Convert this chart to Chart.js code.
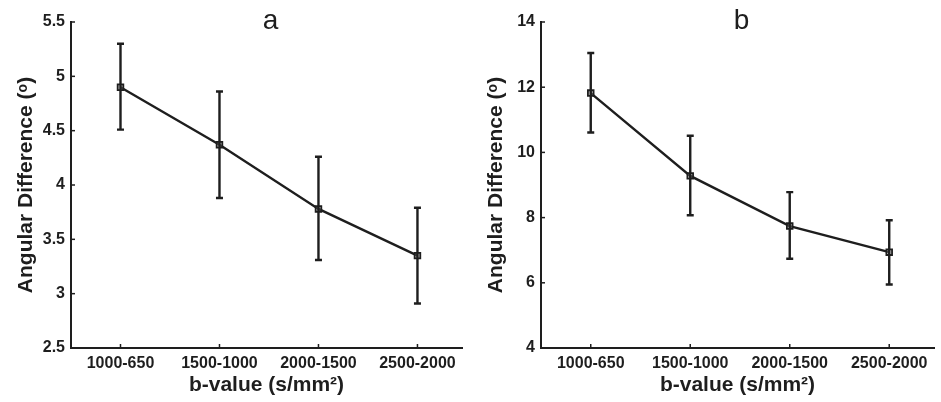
<!DOCTYPE html>
<html>
<head>
<meta charset="utf-8">
<script src="https://cdn.jsdelivr.net/npm/chart.js@4.4.0/dist/chart.umd.min.js"></script>
<style>
    body { margin: 0; background: #fff; }
    #wrap { display: flex; width: 941px; height: 402px; }
</style>
</head>
<body>
<div id="wrap">
    <canvas id="chartA" width="470" height="402"></canvas>
    <canvas id="chartB" width="471" height="402"></canvas>
</div>
<script>
// b-value pairs on the x axis
const categories = ['1000-650', '1500-1000', '2000-1500', '2500-2000'];

// panel a: mean angular difference and error bar ends
const meanA = [4.90, 4.37, 3.78, 3.35];
const upperA = [5.30, 4.86, 4.26, 3.79];
const lowerA = [4.51, 3.88, 3.31, 2.91];

// panel b
const meanB = [11.82, 9.28, 7.74, 6.94];
const upperB = [13.05, 10.51, 8.78, 7.92];
const lowerB = [10.61, 8.07, 6.74, 5.95];

const ink = '#1e1e1e';
const fontFamily = '"Liberation Sans", Arial, sans-serif';

// error bars, inward ticks and the panel letter
const extrasPlugin = {
    id: 'extras',
    afterDatasetsDraw(chart, args, opts) {
        const ctx = chart.ctx;
        const xs = chart.scales.x;
        const ys = chart.scales.y;
        const area = chart.chartArea;
        ctx.save();
        ctx.strokeStyle = ink;
        ctx.lineWidth = 2.4;
        opts.upper.forEach((hi, i) => {
            const x = xs.getPixelForValue(i);
            const yHi = ys.getPixelForValue(hi);
            const yLo = ys.getPixelForValue(opts.lower[i]);
            ctx.beginPath();
            ctx.moveTo(x, yHi);
            ctx.lineTo(x, yLo);
            ctx.moveTo(x - 3.5, yHi);
            ctx.lineTo(x + 3.5, yHi);
            ctx.moveTo(x - 3.5, yLo);
            ctx.lineTo(x + 3.5, yLo);
            ctx.stroke();
        });

        ctx.lineWidth = 1.5;
        ys.ticks.forEach(t => {
            const y = ys.getPixelForValue(t.value);
            ctx.beginPath();
            ctx.moveTo(area.left, y);
            ctx.lineTo(area.left + 4, y);
            ctx.stroke();
        });
        xs.ticks.forEach(t => {
            const x = xs.getPixelForValue(t.value);
            ctx.beginPath();
            ctx.moveTo(x, area.bottom);
            ctx.lineTo(x, area.bottom - 4);
            ctx.stroke();
        });

        ctx.fillStyle = ink;
        ctx.font = '28px ' + fontFamily;
        ctx.textAlign = 'center';
        ctx.textBaseline = 'alphabetic';
        ctx.fillText(opts.letter, (area.left + area.right) / 2 + 4, 29);
        ctx.restore();
    }
};

function makePanel(id, letter, mean, upper, lower, yMin, yMax, yStep, padRight) {
    const ctx = document.getElementById(id).getContext('2d');
    return new Chart(ctx, {
        type: 'line',
        data: {
            datasets: [{
                data: mean.map((v, i) => ({ x: i, y: v })),
                borderColor: ink,
                borderWidth: 2.4,
                pointStyle: 'rect',
                pointRadius: 4,
                pointBorderWidth: 1.8,
                pointBorderColor: ink,
                pointBackgroundColor: 'rgba(150,150,150,0.4)',
                tension: 0
            }]
        },
        options: {
            responsive: false,
            animation: false,
            layout: { padding: { top: 22, left: 0, right: padRight, bottom: 0 } },
            plugins: {
                legend: { display: false },
                tooltip: { enabled: false },
                extras: { letter: letter, upper: upper, lower: lower }
            },
            scales: {
                x: {
                    type: 'linear',
                    min: -0.5,
                    max: 3.45,
                    grid: { display: false, drawTicks: false },
                    border: { display: true, color: ink, width: 2 },
                    afterBuildTicks: s => { s.ticks = categories.map((c, i) => ({ value: i })); },
                    afterFit: s => { s.height = 54; },
                    ticks: {
                        color: ink,
                        padding: 6,
                        maxRotation: 0,
                        font: { family: fontFamily, size: 16, weight: 'bold' },
                        callback: v => categories[v]
                    },
                    title: {
                        display: true,
                        text: 'b-value (s/mm²)',
                        color: ink,
                        padding: { top: 0, bottom: 4 },
                        font: { family: fontFamily, size: 21, weight: 'bold' }
                    }
                },
                y: {
                    min: yMin,
                    max: yMax,
                    grid: { display: false, drawTicks: false },
                    border: { display: true, color: ink, width: 2 },
                    afterFit: s => { s.width = 71; },
                    ticks: {
                        stepSize: yStep,
                        color: ink,
                        padding: 6,
                        font: { family: fontFamily, size: 16, weight: 'bold' },
                        callback: v => String(v)
                    },
                    title: {
                        display: true,
                        text: 'Angular Difference (ᵒ)',
                        color: ink,
                        padding: { top: 14, bottom: 0 },
                        font: { family: fontFamily, size: 21, weight: 'bold' }
                    }
                }
            }
        },
        plugins: [extrasPlugin]
    });
}

makePanel('chartA', 'a', meanA, upperA, lowerA, 2.5, 5.5, 0.5, 8);
makePanel('chartB', 'b', meanB, upperB, lowerB, 4, 14, 2, 7);
</script>
</body>
</html>
